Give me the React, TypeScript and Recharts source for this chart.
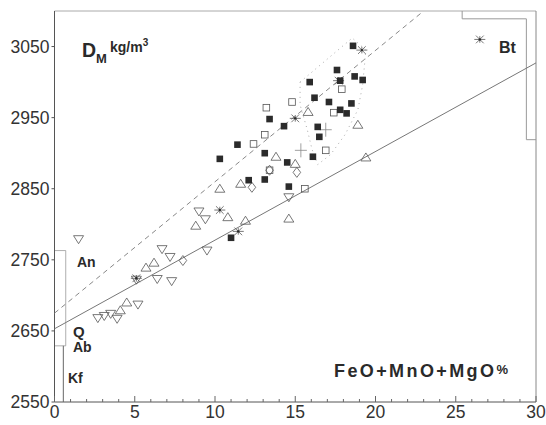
import React from "react";
import {
  ScatterChart,
  Scatter,
  XAxis,
  YAxis,
  ReferenceArea,
  ReferenceLine,
} from "recharts";

type Pt = { x: number; y: number };
const pts = (rows: number[][]): Pt[] => rows.map(([x, y]) => ({ x, y }));

// tick values
const xTicks = Array.from({ length: 31 }, (_, i) => i);
const yTicks = [2550, 2650, 2750, 2850, 2950, 3050];

// sample groups (FeO+MnO+MgO %, density kg/m3)
const filledSquares = pts([
  [18.6, 3051], [17.6, 3017], [17.8, 3002], [18.7, 3008], [19.2, 3003],
  [15.9, 3000], [16.2, 2978], [17.1, 2972], [18.5, 2970], [17.8, 2961],
  [18.2, 2956], [13.4, 2948], [14.3, 2938], [16.4, 2937], [16.5, 2923],
  [11.4, 2912], [13.1, 2900], [10.3, 2892], [16.1, 2895], [14.5, 2887],
  [12.1, 2862], [13.1, 2863], [14.6, 2853], [11.0, 2781],
]);
const openSquares = pts([
  [13.2, 2964], [14.8, 2972], [17.9, 2990], [17.4, 2957], [13.1, 2926],
  [12.4, 2913], [16.9, 2904], [13.4, 2876], [15.6, 2850],
]);
const trianglesUp = pts([
  [15.8, 2958], [18.9, 2940], [13.8, 2895], [11.6, 2857], [10.3, 2850],
  [15.0, 2885], [19.4, 2894], [8.8, 2798], [10.8, 2810], [11.9, 2805],
  [14.6, 2808], [5.7, 2739], [6.2, 2746], [4.5, 2690], [4.1, 2679],
]);
const trianglesDown = pts([
  [1.5, 2779], [6.7, 2765], [7.2, 2754], [9.5, 2763], [6.4, 2723],
  [7.3, 2720], [5.1, 2722], [5.2, 2687], [14.6, 2838], [9.0, 2818],
  [9.4, 2807], [2.7, 2668], [3.1, 2671], [3.5, 2674], [3.9, 2667],
]);
const diamonds = pts([
  [8.0, 2749], [12.3, 2852], [15.1, 2873], [13.4, 2876],
]);
const asterisks = pts([
  [19.15, 3045], [17.7, 3002], [15.0, 2949], [10.3, 2820], [5.1, 2724],
  [26.5, 3060], [11.45, 2790],
]);
const crosses = pts([
  [16.9, 2933], [15.35, 2904],
]);

// fitted lines and mineral ranges
const solidFit = pts([[0, 2653], [30, 3027]]);
const dashedFit = pts([[0, 2675], [23, 3100]]);
const envelope = pts([
  [15.3, 3000], [18.55, 3062], [19.4, 3045], [19.2, 2996], [18.9, 2961],
  [18.1, 2926], [17.2, 2898], [16.4, 2884], [16.05, 2905], [15.75, 2933],
  [15.3, 2968], [15.3, 3000],
]);
const btBracket = pts([[25.4, 3100], [25.4, 3089], [29.4, 3089], [29.4, 2919], [30, 2919]]);
const kfLine = pts([[0.55, 2550], [0.55, 2629]]);
const anBox = { x1: 0, x2: 0.7, y1: 2629, y2: 2763 };

const INK = "#2b2b2b";
const OPEN = "#555";
const FONT = "'Liberation Sans', Arial, sans-serif";

const FilledSquare = (p: any) => (
  <rect x={p.cx - 3.3} y={p.cy - 3.3} width={6.6} height={6.6} fill={INK} />
);
const OpenSquare = (p: any) => (
  <rect x={p.cx - 3.3} y={p.cy - 3.3} width={6.6} height={6.6} fill="none" stroke={OPEN} strokeWidth={0.8} />
);
const TriUp = (p: any) => (
  <path d={`M${p.cx},${p.cy - 4.5} L${p.cx + 5},${p.cy + 3.5} L${p.cx - 5},${p.cy + 3.5} Z`} fill="none" stroke={OPEN} strokeWidth={0.8} />
);
const TriDown = (p: any) => (
  <path d={`M${p.cx},${p.cy + 4.5} L${p.cx + 5},${p.cy - 3.5} L${p.cx - 5},${p.cy - 3.5} Z`} fill="none" stroke={OPEN} strokeWidth={0.8} />
);
const Diamond = (p: any) => (
  <path d={`M${p.cx},${p.cy - 5} L${p.cx + 3.8},${p.cy} L${p.cx},${p.cy + 5} L${p.cx - 3.8},${p.cy} Z`} fill="none" stroke={OPEN} strokeWidth={0.8} />
);
const Asterisk = (p: any) => {
  const r = 5.5;
  const d = r * 0.7;
  return (
    <g stroke={OPEN} strokeWidth={0.8}>
      <line x1={p.cx - r} y1={p.cy} x2={p.cx + r} y2={p.cy} />
      <line x1={p.cx - d} y1={p.cy - d} x2={p.cx + d} y2={p.cy + d} />
      <line x1={p.cx - d} y1={p.cy + d} x2={p.cx + d} y2={p.cy - d} />
      <line x1={p.cx} y1={p.cy - r * 0.6} x2={p.cx} y2={p.cy + r * 0.6} />
      <circle cx={p.cx} cy={p.cy} r={1.2} fill={INK} stroke="none" />
    </g>
  );
};
const Cross = (p: any) => (
  <g stroke="#888" strokeWidth={0.8}>
    <line x1={p.cx - 6} y1={p.cy} x2={p.cx + 6} y2={p.cy} />
    <line x1={p.cx} y1={p.cy - 7} x2={p.cx} y2={p.cy + 7} />
  </g>
);
const NoDot = () => <g />;

const XTick = (props: any) => {
  const { x, y, payload } = props;
  const major = payload.value % 5 === 0;
  return (
    <g>
      <line x1={x} x2={x} y1={y} y2={y - (major ? 6 : 3)} stroke="#666" />
      {major && (
        <text x={x} y={y + 16} textAnchor="middle" fontSize={17.5} fill="#333" fontFamily={FONT}>
          {payload.value}
        </text>
      )}
    </g>
  );
};

export default function App() {
  return (
    <div style={{ position: "absolute", left: 0, top: 0, width: 546, height: 425, background: "#fff" }}>
      <ScatterChart width={546} height={425} margin={{ top: 11, right: 10, bottom: 0, left: 4 }}>
        <XAxis
          type="number"
          dataKey="x"
          domain={[0, 30]}
          ticks={xTicks}
          interval={0}
          tick={<XTick />}
          tickLine={false}
          tickSize={0}
          tickMargin={0}
          height={23}
          axisLine={{ stroke: "#555" }}
        />
        <YAxis
          type="number"
          dataKey="y"
          domain={[2550, 3100]}
          allowDataOverflow
          ticks={yTicks}
          interval={0}
          width={50.5}
          tickSize={3}
          tickMargin={2}
          tick={{ fontSize: 17.5, fill: "#333", fontFamily: FONT }}
          tickLine={{ stroke: "#555" }}
          axisLine={{ stroke: "#555" }}
        />
        <ReferenceLine y={3100} stroke="#aaa" />
        <ReferenceLine x={30} stroke="#888" />
        <ReferenceArea {...anBox} fill="none" stroke="#999" strokeWidth={0.8} ifOverflow="visible" />

        <Scatter data={kfLine} line={{ stroke: "#666", strokeWidth: 1 }} shape={NoDot} isAnimationActive={false} />
        <Scatter data={btBracket} line={{ stroke: "#999", strokeWidth: 1 }} shape={NoDot} isAnimationActive={false} />
        <Scatter data={solidFit} line={{ stroke: "#777", strokeWidth: 1 }} shape={NoDot} isAnimationActive={false} />
        <Scatter data={dashedFit} line={{ stroke: "#888", strokeWidth: 1, strokeDasharray: "5 4" }} shape={NoDot} isAnimationActive={false} />
        <Scatter data={envelope} line={{ stroke: "#aaa", strokeWidth: 1, strokeDasharray: "1 4" }} shape={NoDot} isAnimationActive={false} />

        <Scatter data={openSquares} shape={OpenSquare} isAnimationActive={false} />
        <Scatter data={trianglesUp} shape={TriUp} isAnimationActive={false} />
        <Scatter data={trianglesDown} shape={TriDown} isAnimationActive={false} />
        <Scatter data={diamonds} shape={Diamond} isAnimationActive={false} />
        <Scatter data={crosses} shape={Cross} isAnimationActive={false} />
        <Scatter data={asterisks} shape={Asterisk} isAnimationActive={false} />
        <Scatter data={filledSquares} shape={FilledSquare} isAnimationActive={false} />
      </ScatterChart>

      <svg
        width={546}
        height={425}
        style={{ position: "absolute", left: 0, top: 0, pointerEvents: "none" }}
        fontFamily={FONT}
        fontWeight="bold"
        fill="#2a2a2a"
      >
        <text x={82} y={57} fontSize={19.5}>
          D<tspan fontSize={13} dy={6}>M</tspan>
          <tspan fontSize={14} dx={3} dy={-11}>kg/m</tspan>
          <tspan fontSize={10} dy={-6}>3</tspan>
        </text>
        <text x={499} y={53} fontSize={16}>Bt</text>
        <text x={334} y={377} fontSize={18} letterSpacing={2.4}>
          FeO+MnO+MgO<tspan fontSize={13} dy={-3} letterSpacing={0}>%</tspan>
        </text>
        <text x={77} y={267} fontSize={14}>An</text>
        <text x={73} y={337} fontSize={15}>Q</text>
        <text x={73} y={352} fontSize={14}>Ab</text>
        <text x={68} y={383} fontSize={14}>Kf</text>
      </svg>
    </div>
  );
}
